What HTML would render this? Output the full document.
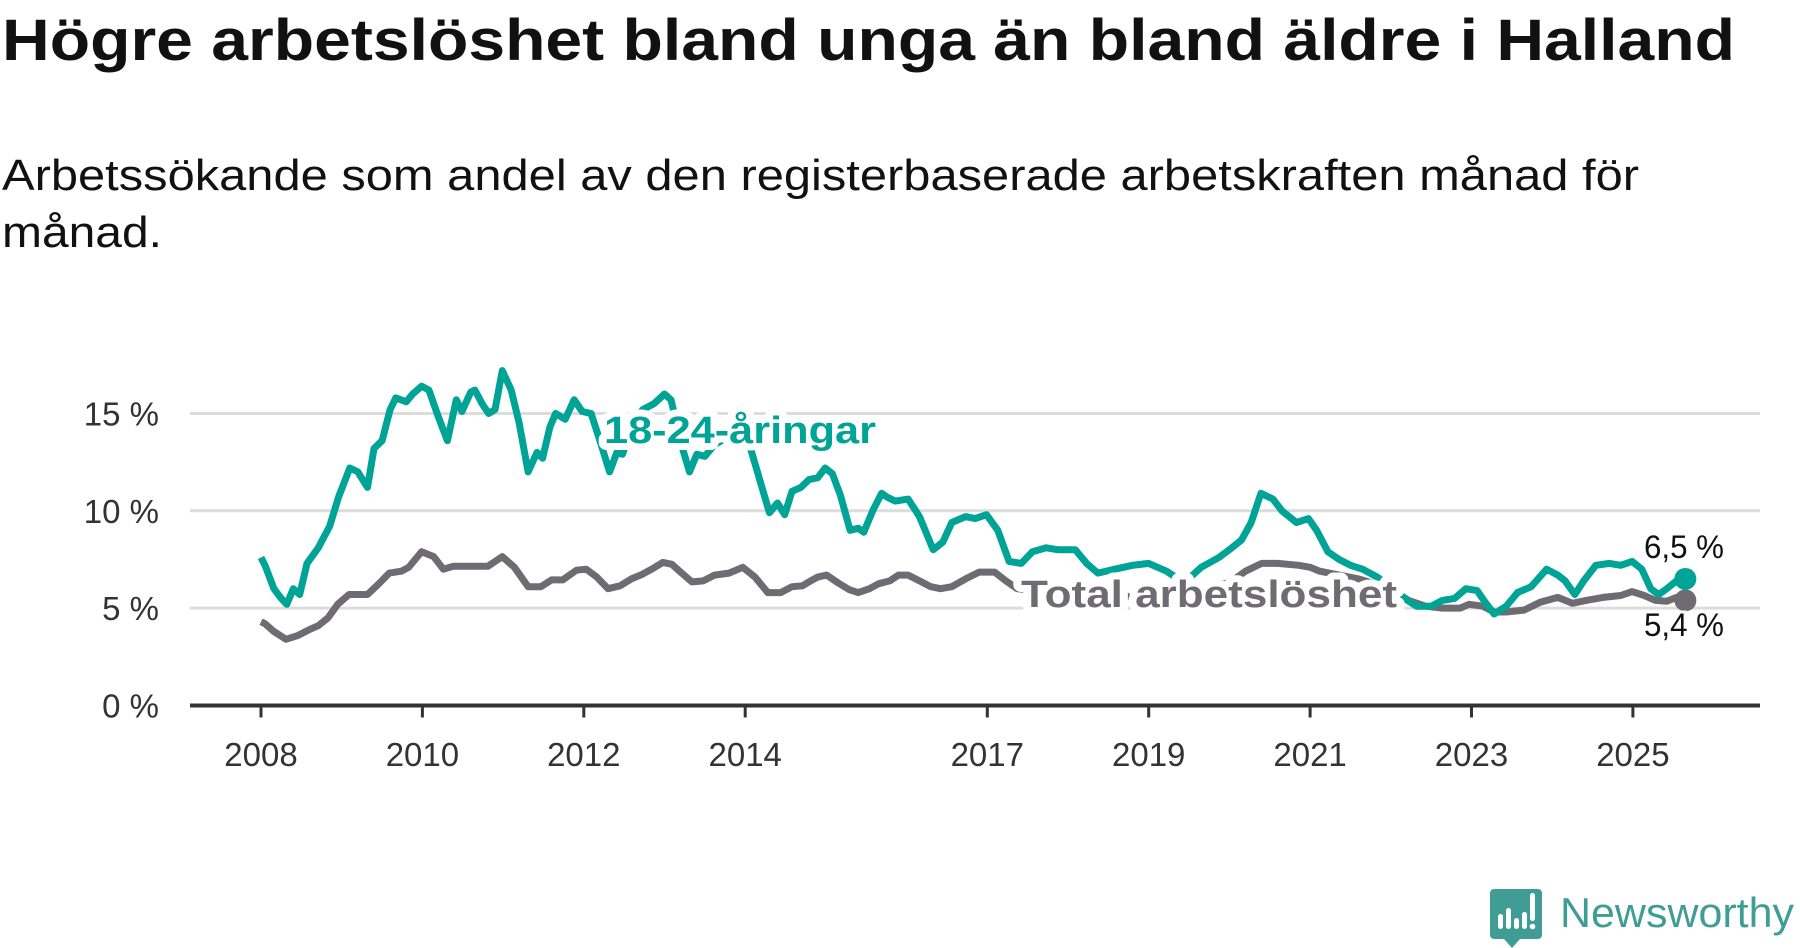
<!DOCTYPE html>
<html><head><meta charset="utf-8"><style>
html,body{margin:0;padding:0;background:#fff;}
svg{display:block;font-family:"Liberation Sans",sans-serif;}
</style></head><body>
<svg id="chart" width="1800" height="948" viewBox="0 0 1800 948" xmlns="http://www.w3.org/2000/svg">
<text x="2" y="60" font-size="58" font-weight="bold" fill="#111" textLength="1733" lengthAdjust="spacingAndGlyphs">Högre arbetslöshet bland unga än bland äldre i Halland</text>
<text x="2" y="190" font-size="44" fill="#111" textLength="1637" lengthAdjust="spacingAndGlyphs">Arbetssökande som andel av den registerbaserade arbetskraften månad för</text>
<text x="2" y="247" font-size="44" fill="#111" textLength="160" lengthAdjust="spacingAndGlyphs">månad.</text>
<g id="grid"></g>
<g id="yaxis"></g>
<g id="xaxis"></g>
<g id="series"></g>
<g id="labels"></g>
<g>
<path d="M1494 889 h44 a4 4 0 0 1 4 4 v42 a4 4 0 0 1 -4 4 h-18 l-8 9 l-8 -9 h-10 a4 4 0 0 1 -4 -4 v-42 a4 4 0 0 1 4 -4z" fill="#3f9d96"/>
<rect x="1498" y="914" width="5" height="15" rx="2.5" fill="#fff"/>
<rect x="1506" y="908" width="5" height="21" rx="2.5" fill="#fff"/>
<rect x="1514" y="918" width="5" height="11" rx="2.5" fill="#fff"/>
<rect x="1522" y="912" width="5" height="17" rx="2.5" fill="#fff"/>
<rect x="1530" y="893" width="5" height="28" rx="2.5" fill="#fff"/>
<circle cx="1532.5" cy="926.5" r="2.8" fill="#fff"/>
<text x="1560" y="927" font-size="42" fill="#3f9d96" textLength="234" lengthAdjust="spacingAndGlyphs">Newsworthy</text>
</g>
</svg>
<script>
const yTicks = [0, 5, 10, 15];
const yTickLabels = ["0 %", "5 %", "10 %", "15 %"];
const xTicks = [2008, 2010, 2012, 2014, 2017, 2019, 2021, 2023, 2025];
const youthDates = [2008.0,2008.05,2008.16,2008.25,2008.32,2008.4,2008.48,2008.57,2008.71,2008.85,2008.96,2009.1,2009.2,2009.32,2009.4,2009.5,2009.6,2009.67,2009.8,2009.88,2009.99,2010.08,2010.2,2010.31,2010.42,2010.49,2010.6,2010.65,2010.74,2010.82,2010.9,2010.99,2011.1,2011.2,2011.31,2011.42,2011.49,2011.58,2011.65,2011.77,2011.88,2011.98,2012.09,2012.2,2012.32,2012.41,2012.48,2012.6,2012.73,2012.87,2013.0,2013.08,2013.23,2013.31,2013.4,2013.5,2013.62,2013.75,2013.88,2014.0,2014.08,2014.3,2014.4,2014.49,2014.58,2014.69,2014.79,2014.9,2014.99,2015.08,2015.18,2015.3,2015.4,2015.47,2015.58,2015.69,2015.76,2015.86,2016.02,2016.16,2016.33,2016.45,2016.56,2016.73,2016.85,2016.99,2017.13,2017.27,2017.42,2017.56,2017.73,2017.87,2018.09,2018.23,2018.37,2018.58,2018.8,2019.0,2019.22,2019.44,2019.65,2019.87,2020.0,2020.15,2020.27,2020.39,2020.54,2020.65,2020.83,2020.98,2021.08,2021.22,2021.36,2021.5,2021.65,2021.83,2022.0,2022.17,2022.32,2022.5,2022.64,2022.79,2022.93,2023.07,2023.17,2023.28,2023.43,2023.57,2023.74,2023.93,2024.07,2024.16,2024.28,2024.39,2024.54,2024.71,2024.85,2024.99,2025.11,2025.22,2025.32,2025.42,2025.54,2025.65];
const youthValues = [7.6,7.2,6.0,5.5,5.2,6.0,5.7,7.3,8.1,9.2,10.7,12.2,12.0,11.2,13.2,13.6,15.2,15.8,15.6,16.0,16.4,16.2,14.8,13.6,15.7,15.1,16.1,16.2,15.5,15.0,15.2,17.2,16.2,14.5,12.0,13.0,12.7,14.3,15.0,14.7,15.7,15.1,15.0,13.6,12.0,13.0,12.9,14.4,15.2,15.5,16.0,15.7,13.1,12.0,12.9,12.8,13.4,13.7,13.9,14.0,13.0,9.9,10.4,9.8,11.0,11.2,11.6,11.7,12.2,11.9,10.8,9.0,9.1,8.9,10.0,10.9,10.7,10.5,10.6,9.7,8.0,8.4,9.4,9.7,9.6,9.8,9.0,7.4,7.3,7.9,8.1,8.0,8.0,7.3,6.8,7.0,7.2,7.3,6.9,6.3,7.1,7.6,8.0,8.5,9.4,10.9,10.6,10.0,9.4,9.6,9.0,7.9,7.5,7.2,7.0,6.6,6.1,5.5,5.1,5.1,5.4,5.5,6.0,5.9,5.3,4.7,5.1,5.8,6.1,7.0,6.7,6.4,5.7,6.4,7.2,7.3,7.2,7.4,7.0,6.0,5.7,6.0,6.4,6.5];
const totalDates = [2008.0,2008.05,2008.16,2008.31,2008.46,2008.6,2008.71,2008.83,2008.95,2009.09,2009.32,2009.46,2009.59,2009.74,2009.83,2009.99,2010.14,2010.26,2010.38,2010.81,2010.99,2011.14,2011.31,2011.47,2011.6,2011.74,2011.91,2012.03,2012.16,2012.3,2012.45,2012.59,2012.73,2012.84,2012.98,2013.09,2013.2,2013.34,2013.48,2013.62,2013.8,2013.97,2014.12,2014.28,2014.44,2014.58,2014.71,2014.81,2014.9,2015.01,2015.15,2015.29,2015.4,2015.54,2015.65,2015.79,2015.9,2016.02,2016.16,2016.3,2016.42,2016.56,2016.73,2016.9,2017.09,2017.23,2017.37,2017.6,2018.0,2018.5,2019.0,2019.5,2020.0,2020.2,2020.4,2020.6,2020.86,2021.0,2021.12,2021.6,2022.0,2022.22,2022.43,2022.64,2022.86,2022.97,2023.14,2023.28,2023.43,2023.65,2023.85,2024.07,2024.25,2024.42,2024.63,2024.85,2024.99,2025.14,2025.28,2025.42,2025.54,2025.65];
const totalValues = [4.3,4.2,3.8,3.4,3.6,3.9,4.1,4.5,5.2,5.7,5.7,6.25,6.8,6.9,7.1,7.9,7.65,7.0,7.15,7.15,7.65,7.1,6.1,6.1,6.45,6.45,6.95,7.0,6.6,6.0,6.15,6.5,6.75,7.0,7.35,7.25,6.85,6.35,6.4,6.7,6.8,7.1,6.6,5.8,5.8,6.1,6.15,6.4,6.6,6.7,6.3,5.95,5.8,6.0,6.25,6.4,6.7,6.7,6.4,6.1,6.0,6.1,6.5,6.85,6.85,6.4,6.0,5.9,5.6,5.4,5.8,6.0,6.3,6.9,7.3,7.3,7.2,7.1,6.9,6.5,6.0,5.4,5.1,5.0,5.0,5.2,5.1,4.8,4.8,4.9,5.3,5.55,5.25,5.4,5.55,5.65,5.85,5.65,5.4,5.35,5.55,5.4];
const endLabels = ["6,5 %", "5,4 %"];

const NS = "http://www.w3.org/2000/svg";
const X0 = 261, PX_PER_YEAR = 80.7, Y0 = 705.5, PX_PER_PCT = 19.47;
function xScale(t){ return X0 + (t - 2008) * PX_PER_YEAR; }
function yScale(v){ return Y0 - v * PX_PER_PCT; }
function mk(tag, attrs, parent){ const e = document.createElementNS(NS, tag); for (const k in attrs) e.setAttribute(k, attrs[k]); parent.appendChild(e); return e; }

const grid = document.getElementById('grid'), yaxis = document.getElementById('yaxis'), xaxis = document.getElementById('xaxis');
yTicks.forEach((v, i) => {
  if (v > 0) {
    const g = mk('line', {x1:190, x2:1760, y1:yScale(v), y2:yScale(v), stroke:'#dcdcdc', 'stroke-width':3}, grid);
    
    
  }
  const t = mk('text', {x:159, y:yScale(v)+12, 'text-anchor':'end', 'font-size':33, fill:'#333'}, yaxis);
  t.textContent = yTickLabels[i];
  
  
});
const ax = mk('line', {x1:190, x2:1760, y1:Y0, y2:Y0, stroke:'#333', 'stroke-width':4}, xaxis);


xTicks.forEach(yr => {
  const tk = mk('line', {x1:xScale(yr), x2:xScale(yr), y1:Y0, y2:Y0+12, stroke:'#333', 'stroke-width':3}, xaxis);
  
  
  const t = mk('text', {x:xScale(yr), y:766, 'text-anchor':'middle', 'font-size':33, fill:'#333'}, xaxis);
  t.textContent = yr;
  
  
});

const series = document.getElementById('series');
function path(dates, vals){ return dates.map((d,i)=> (i?'L':'M') + xScale(d).toFixed(1) + ' ' + yScale(vals[i]).toFixed(1)).join(' '); }
const pTot = mk('path', {d:path(totalDates, totalValues), fill:'none', stroke:'#6e6c72', 'stroke-width':7, 'stroke-linejoin':'round'}, series);


const pY = mk('path', {d:path(youthDates, youthValues), fill:'none', stroke:'#00a497', 'stroke-width':7, 'stroke-linejoin':'round'}, series);


const dT = mk('circle', {cx:xScale(totalDates[totalDates.length-1]), cy:yScale(totalValues[totalValues.length-1]), r:11, fill:'#6e6c72'}, series);


const dY = mk('circle', {cx:xScale(youthDates[youthDates.length-1]), cy:yScale(youthValues[youthValues.length-1]), r:11, fill:'#00a497'}, series);



const labels = document.getElementById('labels');
const l1 = mk('text', {x:604, y:443, 'font-size':38, 'font-weight':'bold', fill:'#00a497', stroke:'#fff', 'stroke-width':14, 'paint-order':'stroke', 'stroke-linejoin':'round', textLength:272, lengthAdjust:'spacingAndGlyphs'}, labels);
l1.textContent = '18-24-åringar';


const l2 = mk('text', {x:1021, y:607, 'font-size':38, 'font-weight':'bold', fill:'#6e6c72', stroke:'#fff', 'stroke-width':14, 'paint-order':'stroke', 'stroke-linejoin':'round', textLength:376, lengthAdjust:'spacingAndGlyphs'}, labels);
l2.textContent = 'Total arbetslöshet';


const e1 = mk('text', {x:1644, y:558, 'font-size':32, fill:'#111', stroke:'#fff', 'stroke-width':6, 'paint-order':'stroke', textLength:80, lengthAdjust:'spacingAndGlyphs'}, labels);
e1.textContent = endLabels[0];


const e2 = mk('text', {x:1644, y:636, 'font-size':32, fill:'#111', stroke:'#fff', 'stroke-width':6, 'paint-order':'stroke', textLength:80, lengthAdjust:'spacingAndGlyphs'}, labels);
e2.textContent = endLabels[1];


</script>
</body></html>
